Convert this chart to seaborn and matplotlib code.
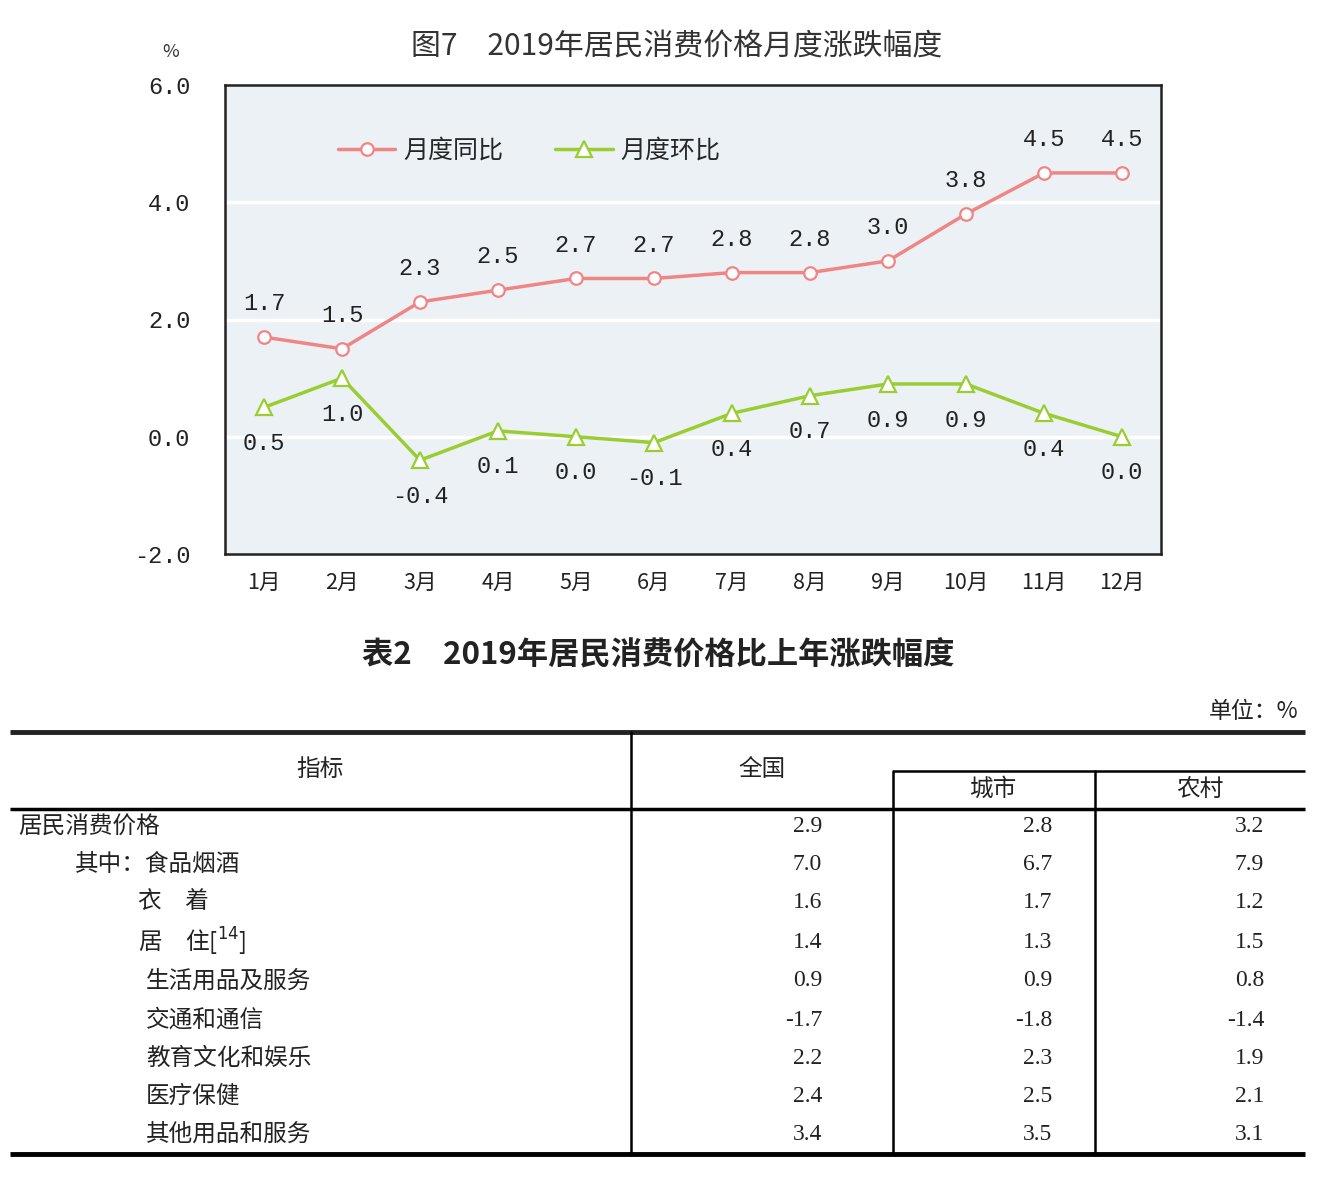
import numpy as np
import pandas as pd
import seaborn as sns
import matplotlib.pyplot as plt
from matplotlib.lines import Line2D

# chart data
months = ["1月", "2月", "3月", "4月", "5月", "6月", "7月", "8月", "9月", "10月", "11月", "12月"]
yoy = [1.7, 1.5, 2.3, 2.5, 2.7, 2.7, 2.8, 2.8, 3.0, 3.8, 4.5, 4.5]
mom = [0.5, 1.0, -0.4, 0.1, 0.0, -0.1, 0.4, 0.7, 0.9, 0.9, 0.4, 0.0]

# table data
row_names = ["居民消费价格", "其中：食品烟酒", "衣　着", "居　住", "生活用品及服务",
             "交通和通信", "教育文化和娱乐", "医疗保健", "其他用品和服务"]
row_indent = [18, 75, 138, 138, 146, 146, 146, 146, 146]
national = [2.9, 7.0, 1.6, 1.4, 0.9, -1.7, 2.2, 2.4, 3.4]
urban = [2.8, 6.7, 1.7, 1.3, 0.9, -1.8, 2.3, 2.5, 3.5]
rural = [3.2, 7.9, 1.2, 1.5, 0.8, -1.4, 1.9, 2.1, 3.1]

sns.set_theme(style="white")
plt.rcParams["font.family"] = ["Noto Sans CJK SC", "DejaVu Sans"]

PINK = "#ef8585"
GREEN = "#9acd32"
NUM_FONT = ["Liberation Mono", "DejaVu Sans Mono"]
TXT = "#222222"

W, H = 1322, 1186
fig = plt.figure(figsize=(W / 100, H / 100), dpi=100)
fig.patch.set_facecolor("white")

ax = fig.add_axes([225 / W, 1 - 554 / H, 936 / W, 469 / H])
ax.set_facecolor("#ecf1f5")

df = pd.DataFrame({"idx": np.arange(len(months)), "yoy": yoy, "mom": mom})

for yv in [0, 2, 4]:
    ax.axhline(yv, color="white", lw=2.5, zorder=0.5)

sns.lineplot(data=df, x="idx", y="yoy", ax=ax, color=PINK, lw=2.5,
             marker="o", markersize=9, markerfacecolor="white",
             markeredgecolor=PINK, markeredgewidth=1.6, zorder=3)
sns.lineplot(data=df, x="idx", y="mom", ax=ax, color=GREEN, lw=2.5,
             marker="^", markersize=12, markerfacecolor="white",
             markeredgecolor=GREEN, markeredgewidth=1.6, zorder=3)

for i, v in enumerate(yoy):
    ax.annotate(f"{v:.1f}", (i, v), xytext=(0, 24), textcoords="offset points",
                ha="center", va="center", fontsize=17, family=NUM_FONT, color=TXT)
for i, v in enumerate(mom):
    ax.annotate(f"{v:.1f}", (i, v), xytext=(0, -26), textcoords="offset points",
                ha="center", va="center", fontsize=17, family=NUM_FONT, color=TXT)

ax.set_xlim(-0.5, len(months) - 0.5)
ax.set_ylim(-2, 6)
ax.set_xticks(np.arange(len(months)))
ax.set_xticklabels(months, fontsize=15.5, color=TXT)
ax.set_xticks(np.arange(0.5, len(months) - 1), minor=True)
ax.tick_params(axis="x", which="major", length=0, pad=13)
ax.tick_params(axis="x", which="minor", direction="in", length=8, width=1.5, color=TXT)
ax.set_yticks([-2, 0, 2, 4, 6])
ax.set_yticklabels([f"{t:.1f}" for t in [-2, 0, 2, 4, 6]], family=NUM_FONT, fontsize=17, color=TXT)
ax.tick_params(axis="y", direction="in", length=8, width=1.5, color=TXT, pad=25)
ax.set_xlabel("")
ax.set_ylabel("")
for s in ax.spines.values():
    s.set_color(TXT)
    s.set_linewidth(1.8)

handles = [
    Line2D([], [], color=PINK, lw=2.5, marker="o", markersize=9,
           markerfacecolor="white", markeredgecolor=PINK, markeredgewidth=1.6),
    Line2D([], [], color=GREEN, lw=2.5, marker="^", markersize=12,
           markerfacecolor="white", markeredgecolor=GREEN, markeredgewidth=1.6),
]
ax.legend(handles, ["月度同比", "月度环比"], loc="center left", bbox_to_anchor=(0.11, 0.86),
          ncol=2, frameon=False, fontsize=18, handlelength=2.3, columnspacing=2.1,
          handletextpad=0.3, borderaxespad=0)

fig.text(171 / W, 1 - 52 / H, "%", ha="center", va="center", fontsize=13, color="#333333")
fig.text(677 / W, 1 - 47 / H, "图7　2019年居民消费价格月度涨跌幅度", ha="center",
         va="center", fontsize=21.5, color="#333333")

# table drawn in pixel coordinates
tx = fig.add_axes([0, 0, 1, 1])
tx.set_xlim(0, W)
tx.set_ylim(H, 0)
tx.axis("off")

tx.text(658, 655, "表2　2019年居民消费价格比上年涨跌幅度", ha="center", va="center",
        fontsize=22.5, fontweight="bold", color=TXT)
tx.text(1298, 712, "单位：%", ha="right", va="center", fontsize=16.5, color=TXT)

tx.plot([10, 1305], [732, 732], color=TXT, lw=3.5, solid_capstyle="butt")
tx.plot([10, 1305], [809, 809], color="black", lw=2.5, solid_capstyle="butt")
tx.plot([10, 1305], [1154, 1154], color="black", lw=3.5, solid_capstyle="butt")
tx.plot([893, 1305], [771, 771], color="black", lw=1.8, solid_capstyle="butt")
tx.plot([631, 631], [732, 1154], color="black", lw=1.8)
tx.plot([893, 893], [771, 1154], color="black", lw=1.8)
tx.plot([1095, 1095], [771, 1154], color="black", lw=1.8)

tx.text(320, 769, "指标", ha="center", va="center", fontsize=17, color=TXT)
tx.text(762, 769, "全国", ha="center", va="center", fontsize=17, color=TXT)
tx.text(993, 789, "城市", ha="center", va="center", fontsize=17, color=TXT)
tx.text(1200, 789, "农村", ha="center", va="center", fontsize=17, color=TXT)

row_y = [827, 864, 902, 942, 981, 1020, 1058, 1096, 1134]
for name, ind, y, a, b, c in zip(row_names, row_indent, row_y, national, urban, rural):
    label = name + "[$^{14}$]" if name == "居　住" else name
    tx.text(ind, y, label, ha="left", va="center", fontsize=17, color=TXT)
    for xv, v in [(822, a), (1052, b), (1264, c)]:
        tx.text(xv, y, f"{v:.1f}", ha="right", va="center", fontsize=17,
                family=["Liberation Serif", "DejaVu Serif"], color=TXT)

fig.savefig("out.png", dpi=100)
